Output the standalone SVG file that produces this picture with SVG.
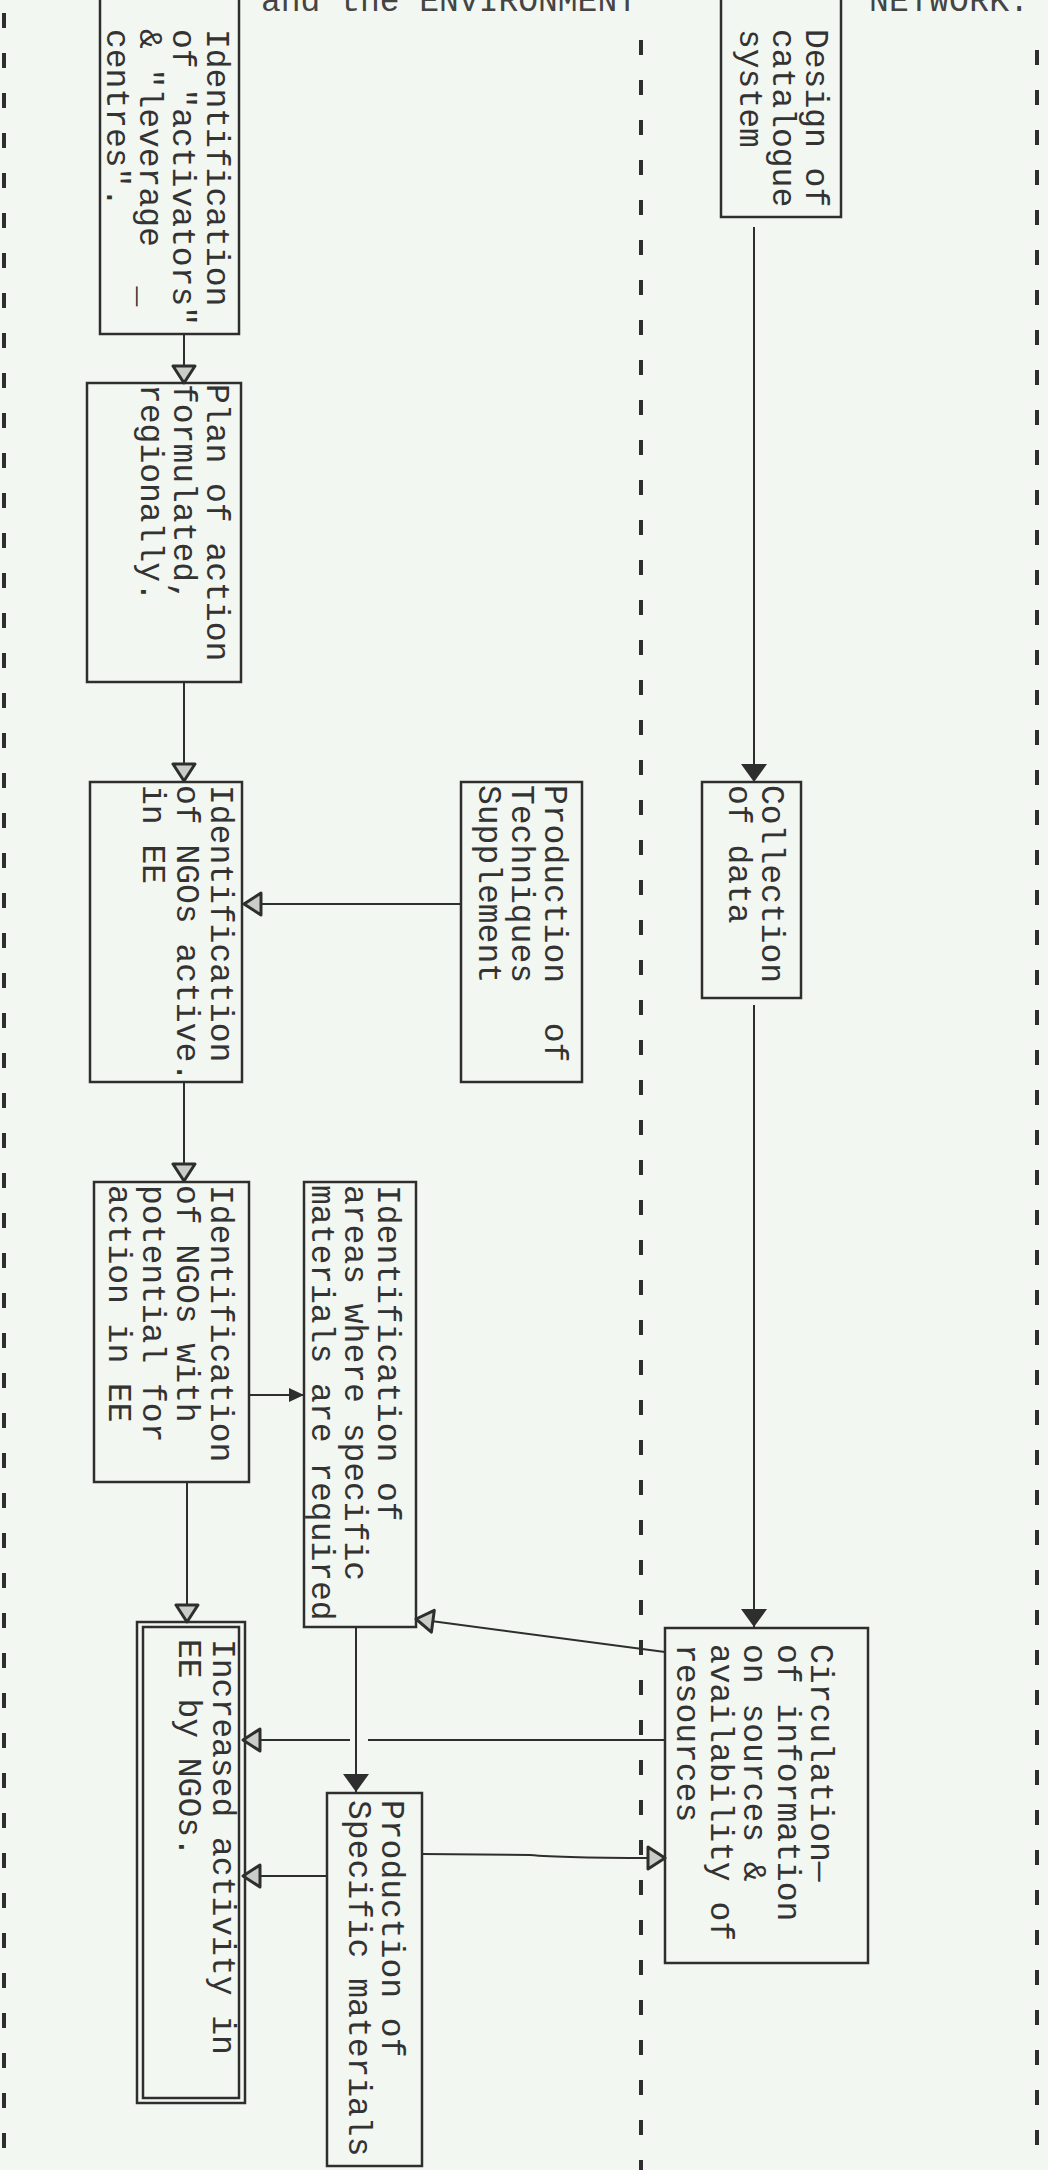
<svg xmlns="http://www.w3.org/2000/svg" width="1048" height="2170" viewBox="0 0 1048 2170">
<style>
.bg{fill:#f3f7f1}
.box{fill:none;stroke:#2e2e2e;stroke-width:2.5}
.dash{stroke:#2e2e2e;stroke-width:4;stroke-dasharray:15 25;fill:none}
.ln{fill:none;stroke:#2e2e2e;stroke-width:2}
.t{font-family:"Liberation Mono","Courier New",monospace;font-size:33px;fill:#333}
.hd{font-family:"Liberation Mono","Courier New",monospace;font-size:33px;fill:#444}
</style>
<defs>
<marker id="open" markerUnits="userSpaceOnUse" markerWidth="22" markerHeight="26" refX="19" refY="13" orient="auto" viewBox="0 0 22 26"><path d="M2,2 L19,13 L2,24 Z" fill="#c9ccc7" stroke="#2e2e2e" stroke-width="3" stroke-linejoin="round"/></marker>
<marker id="fill" markerUnits="userSpaceOnUse" markerWidth="20" markerHeight="28" refX="19" refY="14" orient="auto" viewBox="0 0 20 28"><path d="M1,1 L19,14 L1,27 Z" fill="#2e2e2e"/></marker>
<marker id="fillsm" markerUnits="userSpaceOnUse" markerWidth="16" markerHeight="16" refX="15" refY="8" orient="auto" viewBox="0 0 16 16"><path d="M0,1 L15,8 L0,15 Z" fill="#2e2e2e"/></marker>
</defs>
<rect class="bg" x="0" y="0" width="1048" height="2170"/>

<g id="frame">
<line class="dash" x1="4" y1="13" x2="4" y2="2170"/>
<line class="dash" x1="641" y1="40" x2="641" y2="2170"/>
<line class="dash" x1="1037" y1="50" x2="1037" y2="2170"/>
<text class="hd" x="261" y="11" textLength="376">and the ENVIRONMENT</text>
<text class="hd" x="869" y="11" textLength="160">NETWORK.</text>
</g>

<g id="connectors">
<path class="ln" d="M184,334 L184,383" marker-end="url(#open)"/>
<path class="ln" d="M184,682 L184,781" marker-end="url(#open)"/>
<path class="ln" d="M461,904 L244,904" marker-end="url(#open)"/>
<path class="ln" d="M754,227 L754,782" marker-end="url(#fill)"/>
<path class="ln" d="M754,1005 L754,1627" marker-end="url(#fill)"/>
<path class="ln" d="M184,1082 L184,1181" marker-end="url(#open)"/>
<path class="ln" d="M249,1395 L304,1395" marker-end="url(#fillsm)"/>
<path class="ln" d="M187,1482 L187,1622" marker-end="url(#open)"/>
<path class="ln" d="M665,1652 L416,1619" marker-end="url(#open)"/>
<path class="ln" d="M665,1740 L368,1740"/>
<path class="ln" d="M350,1740 L243,1740" marker-end="url(#open)"/>
<path class="ln" d="M356,1627 L356,1792" marker-end="url(#fill)"/>
<path class="ln" d="M422,1854 L530,1855 Q560,1858 665,1858" marker-end="url(#open)"/>
<path class="ln" d="M327,1876 L243,1876" marker-end="url(#open)"/>
</g>

<g id="n-activators">
<rect class="box" x="100" y="-10" width="139" height="344"/>
<g class="t" transform="translate(0,29) rotate(90)">
<text y="-207">Identification</text>
<text y="-173">of "activators"</text>
<text y="-140" xml:space="preserve">&amp; "leverage  _</text>
<text y="-107">centres".</text>
</g>
</g>

<g id="n-plan">
<rect class="box" x="87" y="383" width="154" height="299"/>
<g class="t" transform="translate(0,384) rotate(90)">
<text y="-207">Plan of action</text>
<text y="-174">formulated,</text>
<text y="-141">regionally.</text>
</g>
</g>

<g id="n-ngos-active">
<rect class="box" x="90" y="782" width="152" height="300"/>
<g class="t" transform="translate(0,785) rotate(90)">
<text y="-211">Identification</text>
<text y="-177">of NGOs active.</text>
<text y="-143">in EE</text>
</g>
</g>

<g id="n-techniques">
<rect class="box" x="461" y="782" width="121" height="300"/>
<g class="t" transform="translate(0,785) rotate(90)">
<text y="-545" xml:space="preserve">Production  of</text>
<text y="-512">Techniques</text>
<text y="-479">Supplement</text>
</g>
</g>

<g id="n-catalogue">
<rect class="box" x="721" y="-10" width="120" height="227"/>
<g class="t" transform="translate(0,29) rotate(90)">
<text y="-806">Design of</text>
<text y="-773">catalogue</text>
<text y="-740">system</text>
</g>
</g>

<g id="n-collection">
<rect class="box" x="702" y="782" width="99" height="216"/>
<g class="t" transform="translate(0,785) rotate(90)">
<text y="-762">Collection</text>
<text y="-729">of data</text>
</g>
</g>

<g id="n-ngos-potential">
<rect class="box" x="94" y="1182" width="155" height="300"/>
<g class="t" transform="translate(0,1185) rotate(90)">
<text y="-211">Identification</text>
<text y="-177">of NGOs with</text>
<text y="-143">potential for</text>
<text y="-109">action in EE</text>
</g>
</g>

<g id="n-areas">
<rect class="box" x="304" y="1182" width="112" height="445"/>
<g class="t" transform="translate(0,1185) rotate(90)">
<text y="-378">Identification of</text>
<text y="-345">areas where specific</text>
<text y="-312">materials are required</text>
</g>
</g>

<g id="n-increased">
<rect class="box" x="137" y="1622" width="108" height="481"/>
<rect class="box" x="143" y="1627" width="96" height="471"/>
<g class="t" transform="translate(0,1639) rotate(90)">
<text y="-213">Increased activity in</text>
<text y="-179">EE by NGOs.</text>
</g>
</g>

<g id="n-circulation">
<rect class="box" x="665" y="1628" width="203" height="335"/>
<g class="t" transform="translate(0,1644) rotate(90)">
<text y="-811">Circulation—</text>
<text y="-778">of information</text>
<text y="-744">on sources &amp;</text>
<text y="-711">availability of</text>
<text y="-677">resources</text>
</g>
</g>

<g id="n-specific">
<rect class="box" x="327" y="1793" width="95" height="373"/>
<g class="t" transform="translate(0,1800) rotate(90)">
<text y="-382">Production of</text>
<text y="-349">Specific materials</text>
</g>
</g>
</svg>
